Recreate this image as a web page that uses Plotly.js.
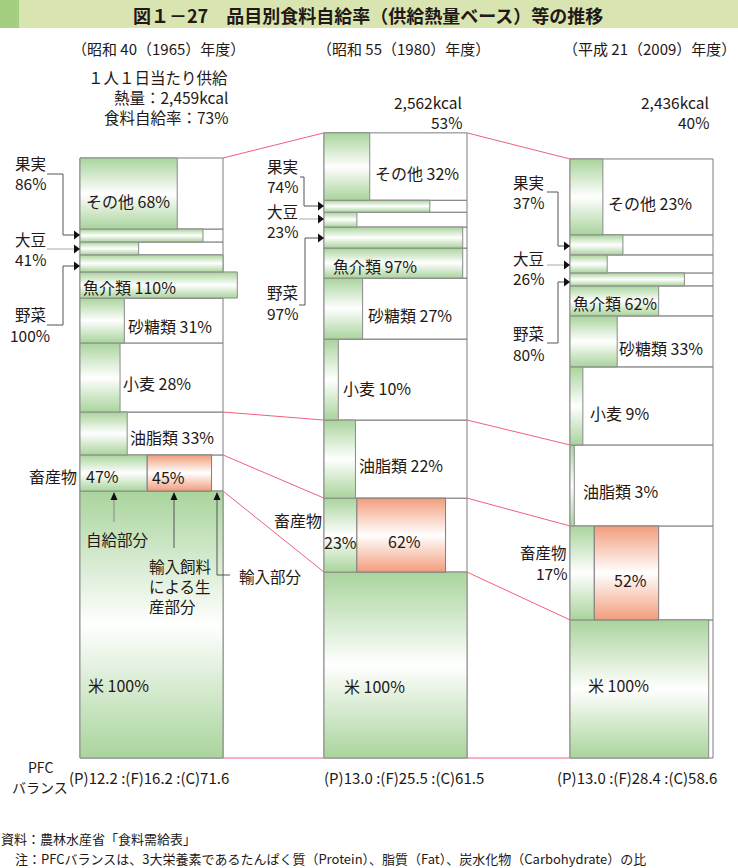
<!DOCTYPE html>
<html><head><meta charset="utf-8">
<script src="https://cdn.plot.ly/plotly-3.0.1.min.js"></script>
<style>body{margin:0;background:#fff}</style>
</head><body><div id="chart" style="width:738px;height:868px"></div>
<script>
// ---- data (bottom to top) ----
const categories = ['米','畜産物','油脂類','小麦','砂糖類','魚介類','野菜','大豆','果実','その他'];
const yearTitles = ['（昭和 40（1965）年度）','（昭和 55（1980）年度）','（平成 21（2009）年度）'];
const kcal1965 = [1094,148,176,283,184,107,70,53,53,291];
const kcal1980 = [762,303,320,332,250,123,86,61,49,276];
const kcal2009 = [566,385,332,320,209,123,53,74,82,311];
const rate1965 = [100,47,33,28,31,110,100,41,86,68];
const rate1980 = [100,23,22,10,27,97,97,23,74,32];
const rate2009 = [97,17,3,9,33,62,80,26,37,23];
const feedRate = [45,62,45];          // 輸入飼料による生産部分 (drawn width)
const feedLabel = ['45%','62%','52%'];
const totalKcal = ['2,459','2,562','2,436'];
const selfRate = [73,53,40];
const pfcP = ['12.2','13.0','13.0'];
const pfcF = ['16.2','25.5','28.4'];
const pfcC = ['71.6','61.5','58.6'];

// ---- layout constants ----
const W = 738, H = 868;
const colLeft = [0, 170.63, 342.66];
const G = '#a9d49c', O = '#f29d7b';
const FONT = "'Noto Sans CJK JP', sans-serif";
const TXT = '#231815';
const kcals = [kcal1965, kcal1980, kcal2009];
const rates = [rate1965, rate1980, rate2009];

const px = x => x / W, py = y => 1 - y / H;
const grad = c => ({type:'vertical', colorscale:[[0,c],[0.5,'#ffffff'],[1,c]]});

const traces = [];
function rect(x0,x1,y0,y1,opt){
  traces.push(Object.assign({
    type:'scatter', mode:'lines', x:[x0,x1,x1,x0,x0], y:[y0,y0,y1,y1,y0],
    fill:'toself', hoverinfo:'skip', showlegend:false
  }, opt));
}
const cums = [];
for (let c=0;c<3;c++){
  const L = colLeft[c], k = kcals[c], r = rates[c];
  const cum=[0]; k.forEach(v=>cum.push(cum[cum.length-1]+v)); cums.push(cum);
  for (let i=0;i<k.length;i++){
    rect(L, L+100, cum[i], cum[i+1], {fillcolor:'#ffffff', line:{color:'#7d7d7d', width:1}});
  }
  for (let i=0;i<k.length;i++){
    rect(L, L+r[i], cum[i], cum[i+1], {fillcolor:G, fillgradient:grad(G), line:{color:'#8a8a8a', width:1}});
  }
  const a = L + r[1];
  rect(a, a+feedRate[c], cum[1], cum[2], {fillcolor:O, fillgradient:grad(O), line:{color:'#7d7d7d', width:1}});
}
// connecting pink lines
const bIdx = [0,1,2,3,10];
for (let c=0;c<2;c++){
  bIdx.forEach(j=>{
    traces.push({type:'scatter', mode:'lines', x:[colLeft[c]+100, colLeft[c+1]],
      y:[cums[c][j], cums[c+1][j]], line:{color:'#f0607c', width:1}, hoverinfo:'skip', showlegend:false});
  });
}

// ---- annotations ----
const ann = [];
function T(text, x, y, xa, size, extra){
  ann.push(Object.assign({text, x:px(x), y:py(y), xref:'paper', yref:'paper', xanchor:xa||'left',
    yanchor:'middle', showarrow:false, borderpad:0, font:{family:FONT, size:size||16, color:TXT}}, extra||{}));
}
T('<b>図１－27　品目別食料自給率（供給熱量ベース）等の推移</b>', 368, 15, 'center', 18);
T(yearTitles[0], 158, 49, 'center', 15);
T(yearTitles[1], 403, 49, 'center', 15);
T(yearTitles[2], 649, 49, 'center', 15);
T('１人１日当たり供給', 229, 77, 'right', 15.5);
T('熱量：'+totalKcal[0]+'kcal', 229, 97, 'right', 15.5);
T('食料自給率：'+selfRate[0]+'%', 229, 117, 'right', 15.5);
T(totalKcal[1]+'kcal', 463, 102.5, 'right', 15.5);
T(selfRate[1]+'%', 463, 122.5, 'right', 15.5);
T(totalKcal[2]+'kcal', 710, 102.5, 'right', 15.5);
T(selfRate[2]+'%', 710, 122.5, 'right', 15.5);

const lab = (c,i) => categories[i]+' '+rates[c][i]+'%';
// col1
T(lab(0,9), 85, 201); T(lab(0,5), 82, 287); T(lab(0,4), 127, 326);
T(lab(0,3), 122, 383); T(lab(0,2), 129, 437);
T(categories[1], 78, 476, 'right'); T(rate1965[1]+'%', 85, 476); T(feedLabel[0], 151, 477);
T('米 100%', 87, 685);
// col2
T(lab(1,9), 374, 173); T(lab(1,5), 332, 266); T(lab(1,4), 367, 315);
T(lab(1,3), 342, 388); T(lab(1,2), 358, 465);
T(categories[1], 323, 520, 'right'); T(rate1980[1]+'%', 323, 542); T(feedLabel[1], 404, 541, 'center');
T('米 100%', 343, 686);
// col3
T(lab(2,9), 607, 203); T(lab(2,5), 572, 303); T(lab(2,4), 618, 348);
T(lab(2,3), 589, 413); T(lab(2,2), 582, 491);
T(categories[1], 568, 552, 'right', 15.5); T(rate2009[1]+'%', 568, 573, 'right', 15.5); T(feedLabel[2], 630, 580, 'center');
T('米 100%', 587, 685);
// side labels (果実, 大豆, 野菜)
const sideX = [30, 282, 528];
const sideY = [[172.5,249.5,324.5],[176,220.5,302.5],[192,268,343.5]];
const sideIdx = [8,7,6];
for (let c=0;c<3;c++){
  sideIdx.forEach((i,j)=>{
    const d = j===2 ? 10.5 : 10;
    T(categories[i], sideX[c], sideY[c][j]-d, 'center', 15.5);
    T(rates[c][i]+'%', sideX[c], sideY[c][j]+d, 'center', 15.5);
  });
}
// bottom annotations
T('自給部分', 85, 539, 'left', 15.5);
T('輸入飼料', 148, 566, 'left', 15.5);
T('による生', 148, 586, 'left', 15.5);
T('産部分', 148, 606, 'left', 15.5);
T('輸入部分', 238, 576, 'left', 15.5);
// PFC
T('PFC', 40, 767, 'center', 14); T('バランス', 40, 787, 'center', 14);
const pfcX = [68, 323, 556];
for (let c=0;c<3;c++) T('(P)'+pfcP[c]+' :(F)'+pfcF[c]+' :(C)'+pfcC[c], pfcX[c], 777, 'left', 15);
// footer
T('資料：農林水産省「食料需給表」', 0, 838, 'left', 13);
T('注：PFCバランスは、3大栄養素であるたんぱく質（Protein）、脂質（Fat）、炭水化物（Carbohydrate）の比', 14, 858, 'left', 13);

// ---- shapes ----
const shapes = [];
shapes.push({type:'rect', xref:'paper', yref:'paper', x0:0, x1:1, y0:py(28), y1:1, fillcolor:'#d9e5b1', line:{width:0}, layer:'below'});
shapes.push({type:'rect', xref:'paper', yref:'paper', x0:0, x1:px(19), y0:py(28), y1:1, fillcolor:'#a4cf82', line:{width:0}, layer:'below'});
function path(pts, color, fill){
  let d = pts.map((p,i)=>(i?'L':'M')+px(p[0])+','+py(p[1])).join(' ');
  if (fill) d += ' Z';
  shapes.push({type:'path', xref:'paper', yref:'paper', path:d, line:{color, width:fill?0:1},
    fillcolor: fill?color:'rgba(0,0,0,0)'});
}
const triR = (x,y)=>path([[x-6,y-4.5],[x,y],[x-6,y+4.5]], '#111', true);
const triU = (x,y)=>path([[x-3.5,y+8],[x,y],[x+3.5,y+8]], '#111', true);
// col1 leaders
path([[47,174],[63,174],[63,235],[75,235]], '#555'); triR(80,235);
path([[47,249],[75,249]], '#aaa'); triR(80,249);
path([[47,325],[63,325],[63,266],[75,266]], '#555'); triR(80,266);
// col2 leaders
path([[300,177],[304,177],[304,206],[319,206]], '#555'); triR(324,206);
path([[299,219],[319,219]], '#aaa'); triR(324,219);
path([[299,305],[305,305],[305,238],[319,238]], '#555'); triR(324,238);
// col3 leaders
path([[547,192],[558,192],[558,246],[565,246]], '#555'); triR(570,246);
path([[547,265],[565,265]], '#aaa'); triR(570,265);
path([[547,343],[558,343],[558,282],[565,282]], '#555'); triR(570,282);
// up arrows
path([[114,522],[114,498]], '#888'); triU(114,492);
path([[174,548],[174,498]], '#555'); triU(174,492);
path([[230,575],[217,575],[217,498]], '#555'); triU(217,492);

const layout = {
  width:W, height:H, margin:{l:0,r:0,t:0,b:0},
  paper_bgcolor:'#fff', plot_bgcolor:'#fff', showlegend:false, hovermode:false,
  xaxis:{range:[-55.944, 460.14], visible:false, fixedrange:true},
  yaxis:{range:[-450.82, 3106.56], visible:false, fixedrange:true},
  annotations:ann, shapes
};
Plotly.newPlot('chart', traces, layout, {staticPlot:true});
</script></body></html>
